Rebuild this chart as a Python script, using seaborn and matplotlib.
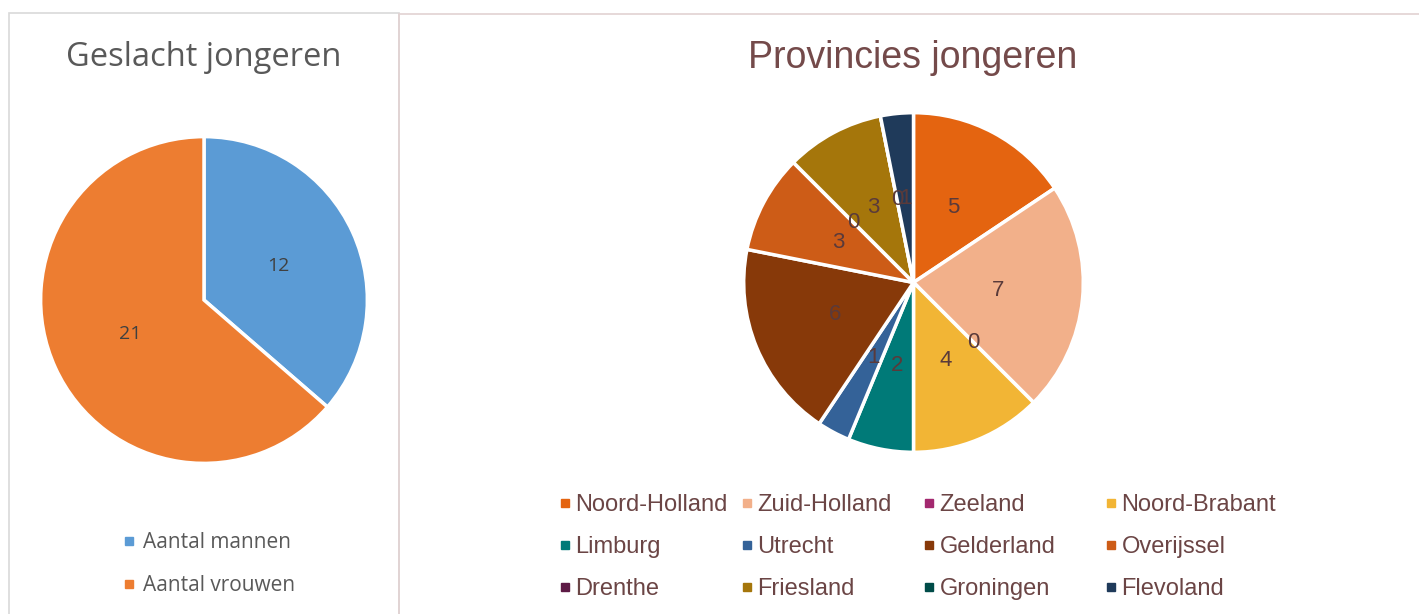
import matplotlib
matplotlib.use("Agg")
import matplotlib.pyplot as plt
from matplotlib.patches import Rectangle
from matplotlib.lines import Line2D
import seaborn as sns

# data
gender_labels = ["Aantal mannen", "Aantal vrouwen"]
gender_counts = [12, 21]
gender_colors = ["#5b9bd5", "#ed7d31"]

provinces = ["Noord-Holland", "Zuid-Holland", "Zeeland", "Noord-Brabant",
             "Limburg", "Utrecht", "Gelderland", "Overijssel",
             "Drenthe", "Friesland", "Groningen", "Flevoland"]
province_counts = [5, 7, 0, 4, 2, 1, 6, 3, 0, 3, 0, 1]
province_colors = ["#e46410", "#f2b08a", "#a3286f", "#f2b535",
                   "#007a78", "#346298", "#873909", "#cd5c17",
                   "#5d1a45", "#a5760b", "#004c48", "#1f3a5a"]

sns.set_theme(style="white")
W, H = 1419, 614
fig = plt.figure(figsize=(W / 100, H / 100), dpi=100)


def px_axes(x0, y0, x1, y1):
    # axes from pixel box (top-left origin)
    return fig.add_axes([x0 / W, 1 - y1 / H, (x1 - x0) / W, (y1 - y0) / H])


# panel borders
fig.add_artist(Rectangle((9 / W, -0.1), 390 / W, 1.1 - 13 / H, transform=fig.transFigure,
                         fill=False, edgecolor="#d9d9d9", lw=1.2))
fig.add_artist(Rectangle((399 / W, -0.1), 1100 / W, 1.1 - 14 / H, transform=fig.transFigure,
                         fill=False, edgecolor="#e2d2d2", lw=1.2))

# left pie
ax1 = px_axes(39, 135, 369, 465)
tot1 = sum(gender_counts)
ax1.pie(gender_counts, colors=sns.color_palette(gender_colors), startangle=90,
        counterclock=False, autopct=lambda p: f"{round(p * tot1 / 100)}",
        pctdistance=0.5,
        wedgeprops=dict(edgecolor="white", linewidth=2.5),
        textprops=dict(color="#404040", fontsize=14, family="Open Sans"))
ax1.set_xlim(-1.01, 1.01)
ax1.set_ylim(-1.01, 1.01)
fig.text(204 / W, 1 - 57 / H, "Geslacht jongeren", ha="center", va="center",
         fontsize=23.5, color="#595959", family="Open Sans")
h1 = [Line2D([], [], marker="s", ls="none", color=c, markersize=6) for c in gender_colors]
fig.legend(h1, gender_labels, loc="center left", bbox_to_anchor=(102 / W, 1 - 564 / H),
           frameon=False, labelcolor="#595959", handletextpad=0.25,
           labelspacing=1.05, handlelength=0.8, prop=dict(family="Open Sans", size=15))

# right pie
ax2 = px_axes(742, 111, 1085, 454)
tot2 = sum(province_counts)
ax2.pie(province_counts, colors=sns.color_palette(province_colors), startangle=90,
        counterclock=False, autopct=lambda p: f"{round(p * tot2 / 100)}",
        pctdistance=0.5,
        wedgeprops=dict(edgecolor="white", linewidth=2.5),
        textprops=dict(color="#5a3a3a", fontsize=16, family="Liberation Sans"))
ax2.set_xlim(-1.01, 1.01)
ax2.set_ylim(-1.01, 1.01)
fig.text(913 / W, 1 - 58 / H, "Provincies jongeren", ha="center", va="center",
         fontsize=27, color="#744a4a", family="Liberation Sans")

# legend: 4 evenly spaced columns, row-major order
col_x = [535, 717, 899, 1081]
for c in range(4):
    idx = [c, c + 4, c + 8]
    hs = [Line2D([], [], marker="s", ls="none", color=province_colors[i], markersize=6) for i in idx]
    fig.legend(hs, [provinces[i] for i in idx], loc="center left",
               bbox_to_anchor=(col_x[c] / W, 1 - 547 / H), frameon=False,
               labelcolor="#6b4545", handletextpad=0.12, labelspacing=0.85,
               handlelength=0.7, prop=dict(family="Liberation Sans", size=17))

fig.savefig("out.png", dpi=100)
